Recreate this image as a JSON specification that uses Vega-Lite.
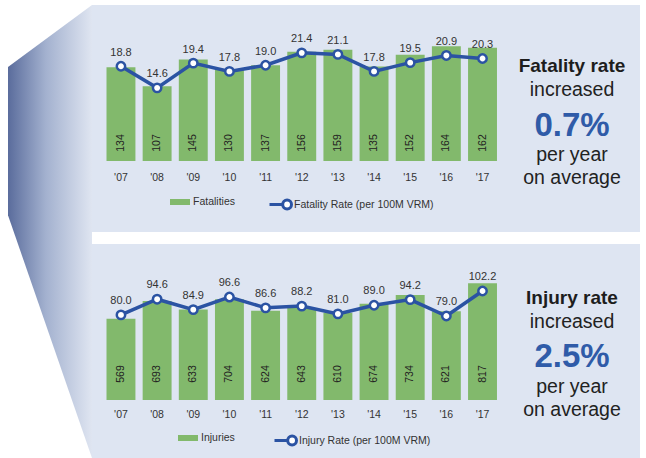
{
  "$schema": "https://vega.github.io/schema/vega-lite/v6.json",
  "background": "white",
  "padding": {"left": 0, "top": 5, "right": 6, "bottom": 0},
  "config": {"view": {"stroke": null}, "concat": {"spacing": 0}, "font": "Liberation Sans"},
  "datasets": {
    "decor": [{"u": 0.087, "lo": 0.536, "hi": 0.863}, {"u": 1, "lo": 0, "hi": 1}],
    "fat": [
      {"yr": "'07", "count": 134, "rate": 18.8},
      {"yr": "'08", "count": 107, "rate": 14.6},
      {"yr": "'09", "count": 145, "rate": 19.4},
      {"yr": "'10", "count": 130, "rate": 17.8},
      {"yr": "'11", "count": 137, "rate": 19.0},
      {"yr": "'12", "count": 156, "rate": 21.4},
      {"yr": "'13", "count": 159, "rate": 21.1},
      {"yr": "'14", "count": 135, "rate": 17.8},
      {"yr": "'15", "count": 152, "rate": 19.5},
      {"yr": "'16", "count": 164, "rate": 20.9},
      {"yr": "'17", "count": 162, "rate": 20.3}
    ],
    "inj": [
      {"yr": "'07", "count": 569, "rate": 80.0},
      {"yr": "'08", "count": 693, "rate": 94.6},
      {"yr": "'09", "count": 633, "rate": 84.9},
      {"yr": "'10", "count": 704, "rate": 96.6},
      {"yr": "'11", "count": 624, "rate": 86.6},
      {"yr": "'12", "count": 643, "rate": 88.2},
      {"yr": "'13", "count": 610, "rate": 81.0},
      {"yr": "'14", "count": 674, "rate": 89.0},
      {"yr": "'15", "count": 734, "rate": 94.2},
      {"yr": "'16", "count": 621, "rate": 79.0},
      {"yr": "'17", "count": 817, "rate": 102.2}
    ],
    "fatnote": [
      {"row": 0, "t": "Fatality rate"},
      {"row": 1, "t": "increased"},
      {"row": 2, "t": "0.7%"},
      {"row": 3, "t": "per year"},
      {"row": 4, "t": "on average"}
    ],
    "injnote": [
      {"row": 0, "t": "Injury rate"},
      {"row": 1, "t": "increased"},
      {"row": 2, "t": "2.5%"},
      {"row": 3, "t": "per year"},
      {"row": 4, "t": "on average"}
    ]
  },
  "spacing": 0,
  "resolve": {"scale": {"color": "independent", "stroke": "independent", "x": "independent", "y": "independent"}, "legend": {"color": "independent", "stroke": "independent"}},
  "hconcat": [
    {
      "width": 92,
      "height": 453,
      "data": {"name": "decor"},
      "mark": {"type": "area", "color": {"gradient": "linear", "x1": 0, "y1": 0, "x2": 1, "y2": 0, "stops": [{"offset": 0, "color": "#5a6c9c"}, {"offset": 0.45, "color": "#a3b1cf"}, {"offset": 1, "color": "#dfe5f1"}]}},
      "encoding": {
        "x": {"field": "u", "type": "quantitative", "scale": {"domain": [0, 1], "nice": false}, "axis": null},
        "y": {"field": "lo", "type": "quantitative", "scale": {"domain": [0, 1], "nice": false}, "axis": null},
        "y2": {"field": "hi"}
      }
    },
    {
      "spacing": 12,
      "resolve": {"scale": {"color": "independent", "stroke": "independent", "x": "independent", "y": "independent"}, "legend": {"color": "independent", "stroke": "independent"}},
      "vconcat": [
        {
          "spacing": 0,
          "resolve": {"scale": {"color": "independent", "stroke": "independent", "x": "independent", "y": "independent"}, "legend": {"color": "independent", "stroke": "independent"}},
          "hconcat": [
            {
              "width": 422,
              "height": 227,
              "view": {"fill": "#dee5f2", "stroke": null},
              "data": {"name": "fat"},
              "encoding": {
                "x": {"field": "yr", "type": "ordinal", "sort": null,
                  "scale": {"paddingInner": 0.2, "paddingOuter": 0.436, "align": 0.46},
                  "axis": {"title": null, "orient": "bottom", "offset": -62, "domain": false, "ticks": false, "labelPadding": 2, "labelFont": "Liberation Sans", "labelFontSize": 10.5, "labelColor": "#333333", "labelAngle": 0}}
              },
              "resolve": {"scale": {"y": "independent"}},
              "layer": [
                {
                  "encoding": {"y": {"field": "count", "type": "quantitative", "scale": {"domain": [-101.4, 222.9], "nice": false, "zero": false}, "axis": null}},
                  "layer": [
                    {
                      "mark": {"type": "bar"},
                      "encoding": {
                        "y2": {"datum": 0},
                        "color": {"datum": "Fatalities", "type": "nominal", "scale": {"range": ["#82b96c"]},
                          "legend": {"title": null, "orient": "none", "legendX": 78, "legendY": 187, "direction": "horizontal", "padding": 0, "symbolType": "M-1,-0.3H1V0.3H-1Z", "symbolSize": 400, "symbolStrokeWidth": 0, "labelFont": "Liberation Sans", "labelFontSize": 10.5, "labelColor": "#333333", "labelOffset": 3}}
                      }
                    },
                    {
                      "mark": {"type": "text", "angle": 270, "dx": 18, "align": "center", "baseline": "middle", "font": "Liberation Sans", "fontSize": 10.5, "color": "#222222"},
                      "encoding": {"y": {"datum": 0, "type": "quantitative"}, "text": {"field": "count", "type": "quantitative"}}
                    }
                  ]
                },
                {
                  "encoding": {"y": {"field": "rate", "type": "quantitative", "scale": {"domain": [-13.4, 30.7], "nice": false, "zero": false}, "axis": null}},
                  "layer": [
                    {
                      "mark": {"type": "line", "strokeWidth": 3.5},
                      "encoding": {
                        "stroke": {"datum": "Fatality Rate (per 100M VRM)", "type": "nominal", "scale": {"range": ["#2b53a3"]},
                          "legend": {"title": null, "orient": "none", "legendX": 176, "legendY": 187, "direction": "horizontal", "padding": 0, "symbolType": "M-1,0H0.2M1,0A0.4,0.4,0,1,1,0.2,0A0.4,0.4,0,1,1,1,0Z", "symbolSize": 484, "symbolStrokeWidth": 3, "symbolFillColor": "#ffffff", "labelFont": "Liberation Sans", "labelFontSize": 10.5, "labelColor": "#333333", "labelOffset": 1}}
                      }
                    },
                    {
                      "mark": {"type": "point", "filled": false, "fill": "#ffffff", "stroke": "#2b53a3", "strokeWidth": 2.5, "size": 70, "opacity": 1}
                    },
                    {
                      "mark": {"type": "text", "dy": -13.5, "font": "Liberation Sans", "fontSize": 11, "color": "#333333"},
                      "encoding": {"text": {"field": "rate", "type": "quantitative", "format": ".1f"}}
                    }
                  ]
                }
              ]
            },
            {
              "width": 126,
              "height": 227,
              "view": {"fill": "#dee5f2", "stroke": null},
              "data": {"name": "fatnote"},
              "encoding": {
                "y": {"field": "row", "type": "quantitative", "scale": {"domain": [-2.05, 6.05], "reverse": true, "nice": false, "zero": false}, "axis": null},
                "text": {"field": "t", "type": "nominal"}
              },
              "layer": [
                {"transform": [{"filter": "datum.row == 0"}], "mark": {"type": "text", "font": "Liberation Sans", "fontSize": 19, "fontWeight": "bold", "color": "#1d1d1d", "dx": -5, "dy": 3.5, "baseline": "middle"}},
                {"transform": [{"filter": "datum.row == 1"}], "mark": {"type": "text", "font": "Liberation Sans", "fontSize": 19.5, "color": "#222222", "dx": -5, "dy": -0.5, "baseline": "middle"}},
                {"transform": [{"filter": "datum.row == 2"}], "mark": {"type": "text", "font": "Liberation Sans", "fontSize": 33, "fontWeight": "bold", "color": "#2f5ba8", "dx": -5, "dy": 7.5, "baseline": "middle"}},
                {"transform": [{"filter": "datum.row == 3"}], "mark": {"type": "text", "font": "Liberation Sans", "fontSize": 19.5, "color": "#222222", "dx": -5, "dy": 8.5, "baseline": "middle"}},
                {"transform": [{"filter": "datum.row == 4"}], "mark": {"type": "text", "font": "Liberation Sans", "fontSize": 19.5, "color": "#222222", "dx": -5, "dy": 3.5, "baseline": "middle"}}
              ]
            }
          ]
        },
        {
          "spacing": 0,
          "resolve": {"scale": {"color": "independent", "stroke": "independent", "x": "independent", "y": "independent"}, "legend": {"color": "independent", "stroke": "independent"}},
          "hconcat": [
            {
              "width": 422,
              "height": 214,
              "view": {"fill": "#dee5f2", "stroke": null},
              "data": {"name": "inj"},
              "encoding": {
                "x": {"field": "yr", "type": "ordinal", "sort": null,
                  "scale": {"paddingInner": 0.2, "paddingOuter": 0.436, "align": 0.46},
                  "axis": {"title": null, "orient": "bottom", "offset": -51, "domain": false, "ticks": false, "labelPadding": 2, "labelFont": "Liberation Sans", "labelFontSize": 10.5, "labelColor": "#333333", "labelAngle": 0}}
              },
              "resolve": {"scale": {"y": "independent"}},
              "layer": [
                {
                  "encoding": {"y": {"field": "count", "type": "quantitative", "scale": {"domain": [-405.6, 1091], "nice": false, "zero": false}, "axis": null}},
                  "layer": [
                    {
                      "mark": {"type": "bar"},
                      "encoding": {
                        "y2": {"datum": 0},
                        "color": {"datum": "Injuries", "type": "nominal", "scale": {"range": ["#82b96c"]},
                          "legend": {"title": null, "orient": "none", "legendX": 86, "legendY": 184, "direction": "horizontal", "padding": 0, "symbolType": "M-1,-0.3H1V0.3H-1Z", "symbolSize": 400, "symbolStrokeWidth": 0, "labelFont": "Liberation Sans", "labelFontSize": 10.5, "labelColor": "#333333", "labelOffset": 3}}
                      }
                    },
                    {
                      "mark": {"type": "text", "angle": 270, "dx": 26, "align": "center", "baseline": "middle", "font": "Liberation Sans", "fontSize": 10.5, "color": "#222222"},
                      "encoding": {"y": {"datum": 0, "type": "quantitative"}, "text": {"field": "count", "type": "quantitative"}}
                    }
                  ]
                },
                {
                  "encoding": {"y": {"field": "rate", "type": "quantitative", "scale": {"domain": [-52.7, 145.8], "nice": false, "zero": false}, "axis": null}},
                  "layer": [
                    {
                      "mark": {"type": "line", "strokeWidth": 3.5},
                      "encoding": {
                        "stroke": {"datum": "Injury Rate (per 100M VRM)", "type": "nominal", "scale": {"range": ["#2b53a3"]},
                          "legend": {"title": null, "orient": "none", "legendX": 181, "legendY": 184, "direction": "horizontal", "padding": 0, "symbolType": "M-1,0H0.2M1,0A0.4,0.4,0,1,1,0.2,0A0.4,0.4,0,1,1,1,0Z", "symbolSize": 484, "symbolStrokeWidth": 3, "symbolFillColor": "#ffffff", "labelFont": "Liberation Sans", "labelFontSize": 10.5, "labelColor": "#333333", "labelOffset": 1}}
                      }
                    },
                    {
                      "mark": {"type": "point", "filled": false, "fill": "#ffffff", "stroke": "#2b53a3", "strokeWidth": 2.5, "size": 70, "opacity": 1}
                    },
                    {
                      "mark": {"type": "text", "dy": -14, "font": "Liberation Sans", "fontSize": 11, "color": "#333333"},
                      "encoding": {"text": {"field": "rate", "type": "quantitative", "format": ".1f"}}
                    }
                  ]
                }
              ]
            },
            {
              "width": 126,
              "height": 214,
              "view": {"fill": "#dee5f2", "stroke": null},
              "data": {"name": "injnote"},
              "encoding": {
                "y": {"field": "row", "type": "quantitative", "scale": {"domain": [-1.82, 5.82], "reverse": true, "nice": false, "zero": false}, "axis": null},
                "text": {"field": "t", "type": "nominal"}
              },
              "layer": [
                {"transform": [{"filter": "datum.row == 0"}], "mark": {"type": "text", "font": "Liberation Sans", "fontSize": 19, "fontWeight": "bold", "color": "#1d1d1d", "dx": -5, "dy": 3, "baseline": "middle"}},
                {"transform": [{"filter": "datum.row == 1"}], "mark": {"type": "text", "font": "Liberation Sans", "fontSize": 19.5, "color": "#222222", "dx": -5, "dy": -1, "baseline": "middle"}},
                {"transform": [{"filter": "datum.row == 2"}], "mark": {"type": "text", "font": "Liberation Sans", "fontSize": 33, "fontWeight": "bold", "color": "#2f5ba8", "dx": -5, "dy": 6, "baseline": "middle"}},
                {"transform": [{"filter": "datum.row == 3"}], "mark": {"type": "text", "font": "Liberation Sans", "fontSize": 19.5, "color": "#222222", "dx": -5, "dy": 8, "baseline": "middle"}},
                {"transform": [{"filter": "datum.row == 4"}], "mark": {"type": "text", "font": "Liberation Sans", "fontSize": 19.5, "color": "#222222", "dx": -5, "dy": 3, "baseline": "middle"}}
              ]
            }
          ]
        }
      ]
    }
  ]
}
